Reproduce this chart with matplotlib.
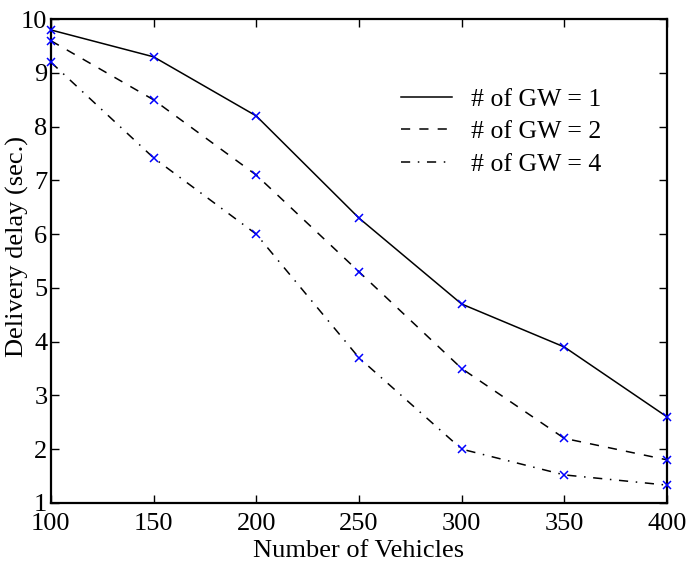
import matplotlib as mpl
mpl.use('Agg')
import matplotlib.pyplot as plt

vehicles = [100, 150, 200, 250, 300, 350, 400]
delay_gw1 = [9.8, 9.3, 8.2, 6.3, 4.7, 3.9, 2.6]
delay_gw2 = [9.6, 8.5, 7.1, 5.3, 3.5, 2.2, 1.8]
delay_gw4 = [9.2, 7.42, 6.0, 3.7, 2.0, 1.52, 1.33]
labels = ['# of GW = 1', '# of GW = 2', '# of GW = 4']

plt.rcParams['font.family'] = ['Liberation Serif', 'DejaVu Serif']

fig = plt.figure(figsize=(6.97, 5.65), dpi=100)
ax = fig.add_axes([0.073, 0.110, 0.884, 0.856])

ax.plot(vehicles, delay_gw1, color='k', lw=1.1, ls='-', label=labels[0])
ax.plot(vehicles, delay_gw2, color='k', lw=1.1, dashes=(6, 6), label=labels[1])
ax.plot(vehicles, delay_gw4, color='k', lw=1.1, dashes=(6, 5, 1, 5), label=labels[2])
for d in (delay_gw1, delay_gw2, delay_gw4):
	ax.plot(vehicles, d, ls='none', marker='x', color='b', ms=5.5, mew=1.1, clip_on=False, zorder=5)

ax.set_xlim(100, 400)
ax.set_ylim(1, 10)
ax.set_xticks(vehicles)
ax.set_yticks(range(1, 11))
ax.tick_params(direction='in', top=True, right=True, length=6, width=1, labelsize=19)
ax.tick_params(axis='x', pad=7)
ax.tick_params(axis='y', pad=2.5)
for s in ax.spines.values():
	s.set_linewidth(1.6)

ax.set_xlabel('Number of Vehicles', fontsize=19, labelpad=4)
ax.set_ylabel('Delivery delay (sec.)', fontsize=19)
ax.yaxis.set_label_coords(-0.036, 0.53)

ax.legend(loc='upper left', bbox_to_anchor=(0.551, 0.88), frameon=False, fontsize=18.5,
	handlelength=2.0, handletextpad=0.75, labelspacing=0.38, borderaxespad=0)

plt.savefig('out.png', dpi=100)
